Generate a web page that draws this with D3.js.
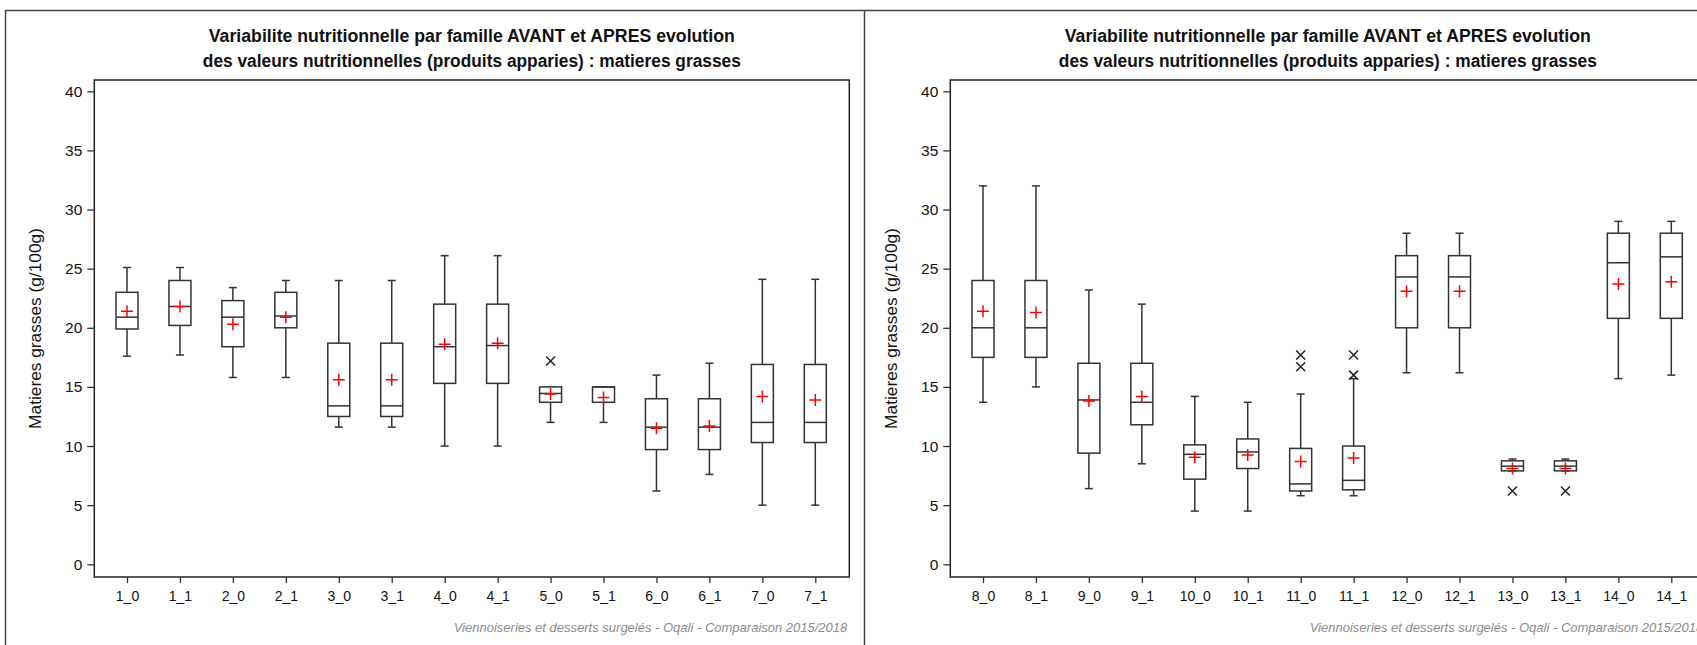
<!DOCTYPE html>
<html><head><meta charset="utf-8">
<script src="https://cdn.jsdelivr.net/npm/d3@7"></script>
<style>
html,body{margin:0;padding:0;background:#fff;overflow:hidden;}
svg{display:block;font-family:"Liberation Sans",Arial,sans-serif;}
</style></head>
<body>
<svg id="chart" width="1697" height="645"></svg>
<script>
// ---- DATA ----
const titleLines = ["Variabilite nutritionnelle par famille AVANT et APRES evolution",
                    "des valeurs nutritionnelles (produits apparies) : matieres grasses"];
const yLabel = "Matieres grasses (g/100g)";
const footer = "Viennoiseries et desserts surgelés - Oqali - Comparaison 2015/2018";
const yTicks = [0, 5, 10, 15, 20, 25, 30, 35, 40];

const catsA = ["1_0","1_1","2_0","2_1","3_0","3_1","4_0","4_1","5_0","5_1","6_0","6_1","7_0","7_1"];
const loA   = [17.6,17.7,15.8,15.8,11.6,11.6,10.0,10.0,12.0,12.0, 6.2, 7.6, 5.0, 5.0];
const q1A   = [19.9,20.2,18.4,20.0,12.5,12.5,15.3,15.3,13.7,13.7, 9.7, 9.7,10.3,10.3];
const medA  = [20.9,21.8,20.9,21.0,13.4,13.4,18.4,18.5,14.45,15.0,11.6,11.6,12.0,12.0];
const q3A   = [23.0,24.0,22.3,23.0,18.7,18.7,22.0,22.0,15.0,15.0,14.0,14.0,16.9,16.9];
const hiA   = [25.1,25.1,23.4,24.0,24.0,24.0,26.1,26.1,15.0,15.0,16.0,17.0,24.1,24.1];
const meanA = [21.4,21.8,20.3,20.9,15.6,15.6,18.6,18.7,14.4,14.1,11.5,11.7,14.2,13.9];
const outA  = [[],[],[],[],[],[],[],[],[17.2],[],[],[],[],[]];

const catsB = ["8_0","8_1","9_0","9_1","10_0","10_1","11_0","11_1","12_0","12_1","13_0","13_1","14_0","14_1"];
const loB   = [13.7,15.0, 6.4, 8.5, 4.5, 4.5, 5.8, 5.8,16.2,16.2, 7.9, 7.9,15.7,16.0];
const q1B   = [17.5,17.5, 9.4,11.8, 7.2, 8.1, 6.2, 6.3,20.0,20.0, 7.9, 7.9,20.8,20.8];
const medB  = [20.0,20.0,13.9,13.7, 9.3, 9.5, 6.8, 7.1,24.3,24.3, 8.3, 8.3,25.5,26.0];
const q3B   = [24.0,24.0,17.0,17.0,10.1,10.6, 9.8,10.0,26.1,26.1, 8.75,8.75,28.0,28.0];
const hiB   = [32.0,32.0,23.2,22.0,14.2,13.7,14.4,15.7,28.0,28.0, 8.9, 8.9,29.0,29.0];
const meanB = [21.4,21.3,13.8,14.2, 9.05,9.25,8.7, 9.0,23.1,23.1, 8.1, 8.1,23.7,23.9];
const outB  = [[],[],[],[],[],[],[17.7,16.7],[17.7,16.0],[],[],[6.2],[6.2],[],[]];

// ---- LAYOUT ----
const svg = d3.select("#chart");
const frame = {left: 94.3, right: 849.3, top: 80, bottom: 577};
const panelOffset = 856;
const y = d3.scaleLinear().domain([0, 40]).range([564.3, 91.3]);

function build(cats, lo, q1, med, q3, hi, mean, out) {
  return cats.map((c, i) => ({cat: c, lo: lo[i], q1: q1[i], med: med[i], q3: q3[i], hi: hi[i], mean: mean[i], out: out[i]}));
}
const panels = [
  {data: build(catsA, loA, q1A, medA, q3A, hiA, meanA, outA), cats: catsA, dx: 0},
  {data: build(catsB, loB, q1B, medB, q3B, hiB, meanB, outB), cats: catsB, dx: panelOffset}
];

// outer borders
svg.append("line").attr("x1", 5).attr("x2", 1697).attr("y1", 10.5).attr("y2", 10.5).attr("stroke", "#444").attr("stroke-width", 1.5);
svg.append("line").attr("x1", 5.5).attr("x2", 5.5).attr("y1", 10).attr("y2", 645).attr("stroke", "#444").attr("stroke-width", 1.5);
svg.append("line").attr("x1", 864.5).attr("x2", 864.5).attr("y1", 10).attr("y2", 645).attr("stroke", "#444").attr("stroke-width", 1.5);

const boxHalf = 11, capHalf = 4, plusHalf = 6, xHalf = 4.5;
const strokeCol = "#333";
const titleWidths = [526, 538];

panels.forEach(p => {
  const g = svg.append("g").attr("transform", `translate(${p.dx},0)`);
  const x = d3.scalePoint().domain(p.cats).range([127, 815.3]);

  // title
  g.selectAll("text.title").data(titleLines).enter().append("text")
    .attr("x", (frame.left + frame.right) / 2).attr("y", (d, i) => 42 + i * 24.5)
    .attr("text-anchor", "middle").attr("font-weight", "bold").attr("font-size", 17.5).attr("fill", "#111")
    .attr("textLength", (d, i) => titleWidths[i]).attr("lengthAdjust", "spacingAndGlyphs")
    .text(d => d);

  // frame
  g.append("rect").attr("x", frame.left).attr("y", frame.top)
    .attr("width", frame.right - frame.left).attr("height", frame.bottom - frame.top)
    .attr("fill", "none").attr("stroke", "#222").attr("stroke-width", 1.5);

  // y axis
  const ya = g.append("g").attr("transform", `translate(${frame.left},0)`)
    .call(d3.axisLeft(y).tickValues(yTicks).tickSize(7).tickPadding(5));
  ya.select(".domain").remove();
  ya.selectAll("line").attr("stroke", "#333").attr("stroke-width", 1.3);
  ya.selectAll("text").attr("font-size", 15.5).attr("fill", "#111").attr("font-family", "Liberation Sans, Arial, sans-serif");

  // x axis
  const xa = g.append("g").attr("transform", `translate(0,${frame.bottom})`)
    .call(d3.axisBottom(x).tickSize(6).tickPadding(8));
  xa.select(".domain").remove();
  xa.selectAll("line").attr("stroke", "#333").attr("stroke-width", 1.3);
  xa.selectAll("text").attr("font-size", 14).attr("fill", "#111").attr("font-family", "Liberation Sans, Arial, sans-serif");

  // y label
  g.append("text").attr("transform", `translate(41,${(frame.top + frame.bottom) / 2}) rotate(-90)`)
    .attr("text-anchor", "middle").attr("font-size", 17.3).attr("fill", "#111").text(yLabel);

  // footer
  g.append("text").attr("x", frame.right - 2).attr("y", 632).attr("text-anchor", "end")
    .attr("font-size", 13).attr("font-style", "italic").attr("fill", "#8c8c8c").text(footer);

  // boxes
  const b = g.selectAll("g.box").data(p.data).enter().append("g").attr("class", "box");
  b.append("line").attr("x1", d => x(d.cat)).attr("x2", d => x(d.cat))
    .attr("y1", d => y(d.hi)).attr("y2", d => y(d.q3)).attr("stroke", strokeCol).attr("stroke-width", 1.5);
  b.append("line").attr("x1", d => x(d.cat)).attr("x2", d => x(d.cat))
    .attr("y1", d => y(d.q1)).attr("y2", d => y(d.lo)).attr("stroke", strokeCol).attr("stroke-width", 1.5);
  b.append("line").attr("x1", d => x(d.cat) - capHalf).attr("x2", d => x(d.cat) + capHalf)
    .attr("y1", d => y(d.hi)).attr("y2", d => y(d.hi)).attr("stroke", strokeCol).attr("stroke-width", 1.5);
  b.append("line").attr("x1", d => x(d.cat) - capHalf).attr("x2", d => x(d.cat) + capHalf)
    .attr("y1", d => y(d.lo)).attr("y2", d => y(d.lo)).attr("stroke", strokeCol).attr("stroke-width", 1.5);
  b.append("rect").attr("x", d => x(d.cat) - boxHalf).attr("width", boxHalf * 2)
    .attr("y", d => y(d.q3)).attr("height", d => y(d.q1) - y(d.q3))
    .attr("fill", "#fff").attr("stroke", strokeCol).attr("stroke-width", 1.5);
  b.append("line").attr("x1", d => x(d.cat) - boxHalf).attr("x2", d => x(d.cat) + boxHalf)
    .attr("y1", d => y(d.med)).attr("y2", d => y(d.med)).attr("stroke", strokeCol).attr("stroke-width", 1.5);
  // mean +
  b.append("path").attr("d", d => {
      const cx = x(d.cat), cy = y(d.mean);
      return `M${cx - plusHalf},${cy}H${cx + plusHalf}M${cx},${cy - plusHalf}V${cy + plusHalf}`;
    }).attr("stroke", "#ff0000").attr("stroke-width", 1.5).attr("fill", "none");
  // outliers x
  b.selectAll("path.out").data(d => d.out.map(v => ({cat: d.cat, v}))).enter().append("path")
    .attr("class", "out")
    .attr("d", d => {
      const cx = x(d.cat), cy = y(d.v);
      return `M${cx - xHalf},${cy - xHalf}L${cx + xHalf},${cy + xHalf}M${cx - xHalf},${cy + xHalf}L${cx + xHalf},${cy - xHalf}`;
    }).attr("stroke", "#222").attr("stroke-width", 1.5).attr("fill", "none");
});
</script>
</body></html>
